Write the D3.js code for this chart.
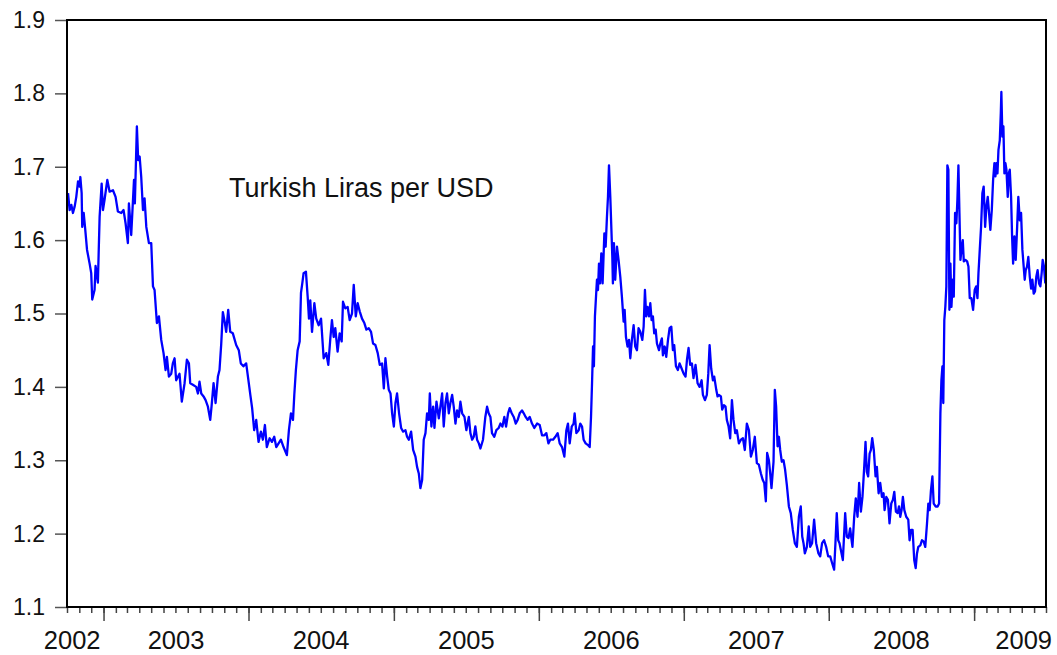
<!DOCTYPE html>
<html>
<head>
<meta charset="utf-8">
<script src="https://cdn.jsdelivr.net/npm/d3@7"></script>
<style>
	body { margin: 0; background: #fff; }
	text { font-family: "Liberation Sans", Arial, Helvetica, sans-serif; }
</style>
</head>
<body>
<div id="chart"></div>
<script>
// y axis ticks
var yTicks = [1.1, 1.2, 1.3, 1.4, 1.5, 1.6, 1.7, 1.8, 1.9];

// year labels under the x axis
var yearLabels = [2002, 2003, 2004, 2005, 2006, 2007, 2008, 2009];

var seriesLabel = "Turkish Liras per USD";

var tryUsd2002_03 = [
	[2002.755,1.664],[2002.766,1.641],[2002.778,1.648],[2002.789,1.637],[2002.801,1.646],[2002.812,1.659],[2002.824,1.680],[2002.835,1.673],
	[2002.840,1.686],[2002.849,1.664],[2002.853,1.618],[2002.863,1.637],[2002.874,1.614],[2002.886,1.587],[2002.904,1.568],[2002.915,1.555],
	[2002.922,1.519],[2002.938,1.532],[2002.945,1.565],[2002.961,1.542],[2002.973,1.632],[2002.987,1.677],[2002.996,1.641],[2003.007,1.655],
	[2003.026,1.682],[2003.042,1.666],[2003.065,1.668],[2003.083,1.659],[2003.099,1.639],[2003.122,1.637],[2003.138,1.641],[2003.152,1.623],
	[2003.168,1.596],[2003.175,1.650],[2003.191,1.607],[2003.210,1.682],[2003.216,1.650],[2003.230,1.755],[2003.239,1.709],[2003.249,1.714],
	[2003.260,1.686],[2003.272,1.641],[2003.283,1.657],[2003.295,1.618],[2003.313,1.596],[2003.329,1.596],[2003.341,1.537],[2003.352,1.532],
	[2003.368,1.487],[2003.382,1.496],[2003.398,1.464],[2003.414,1.446],[2003.428,1.423],[2003.437,1.441],[2003.451,1.414],[2003.467,1.418],
	[2003.478,1.432],[2003.490,1.439],[2003.501,1.409],[2003.524,1.418],[2003.540,1.380],[2003.559,1.405],[2003.575,1.437],[2003.589,1.432],
	[2003.598,1.405],[2003.616,1.403],[2003.639,1.400],[2003.651,1.391],[2003.662,1.407],[2003.674,1.391],[2003.690,1.387],[2003.704,1.382],
	[2003.720,1.373],[2003.736,1.355],[2003.745,1.373],[2003.759,1.405],[2003.773,1.378],[2003.789,1.414],[2003.800,1.423],[2003.812,1.459],
	[2003.823,1.502],[2003.837,1.487],[2003.846,1.475],[2003.860,1.505],[2003.874,1.475],[2003.892,1.473],[2003.915,1.457],[2003.933,1.450],
	[2003.947,1.432],[2003.965,1.428],[2003.984,1.432],[2004.002,1.405],[2004.014,1.387],[2004.025,1.371],[2004.039,1.341]
];

var tryUsd2004_05 = [
	[2004.053,1.355],[2004.069,1.325],[2004.085,1.339],[2004.099,1.328],[2004.113,1.348],[2004.126,1.318],[2004.145,1.330],[2004.161,1.325],
	[2004.177,1.332],[2004.191,1.318],[2004.207,1.323],[2004.223,1.328],[2004.241,1.318],[2004.264,1.307],[2004.278,1.341],[2004.292,1.364],
	[2004.306,1.355],[2004.315,1.389],[2004.326,1.423],[2004.338,1.450],[2004.352,1.462],[2004.361,1.528],[2004.370,1.541],[2004.379,1.555],
	[2004.395,1.557],[2004.407,1.523],[2004.416,1.493],[2004.425,1.518],[2004.437,1.475],[2004.453,1.514],[2004.466,1.493],[2004.483,1.484],
	[2004.499,1.493],[2004.517,1.439],[2004.535,1.446],[2004.549,1.430],[2004.563,1.466],[2004.574,1.491],[2004.586,1.468],[2004.597,1.480],
	[2004.613,1.448],[2004.627,1.473],[2004.641,1.462],[2004.650,1.516],[2004.666,1.507],[2004.682,1.509],[2004.696,1.491],[2004.712,1.500],
	[2004.724,1.539],[2004.738,1.496],[2004.751,1.514],[2004.765,1.503],[2004.781,1.493],[2004.797,1.487],[2004.811,1.478],[2004.827,1.480],
	[2004.843,1.475],[2004.857,1.459],[2004.873,1.457],[2004.889,1.446],[2004.903,1.430],[2004.919,1.432],[2004.931,1.398],[2004.942,1.439],
	[2004.954,1.414],[2004.965,1.396],[2004.977,1.391],[2004.988,1.364],[2005.000,1.346],[2005.011,1.378],[2005.022,1.391],[2005.036,1.364],
	[2005.050,1.344],[2005.064,1.339],[2005.080,1.341],[2005.091,1.332],[2005.103,1.328],[2005.119,1.339],[2005.133,1.314],[2005.149,1.305],
	[2005.160,1.291],[2005.172,1.282],[2005.183,1.262],[2005.195,1.273],[2005.206,1.328],[2005.218,1.337],[2005.229,1.364],[2005.241,1.355],
	[2005.248,1.391],[2005.259,1.346],[2005.271,1.373],[2005.280,1.344],[2005.294,1.380],[2005.310,1.357],[2005.321,1.373]
];

var tryUsd2005_06 = [
	[2005.333,1.391],[2005.344,1.346],[2005.356,1.378],[2005.367,1.391],[2005.379,1.364],[2005.390,1.378],[2005.402,1.389],[2005.413,1.373],
	[2005.425,1.350],[2005.436,1.368],[2005.448,1.359],[2005.459,1.380],[2005.471,1.364],[2005.487,1.359],[2005.500,1.341],[2005.517,1.359],
	[2005.528,1.337],[2005.540,1.328],[2005.551,1.332],[2005.562,1.346],[2005.574,1.328],[2005.586,1.323],[2005.597,1.316],[2005.615,1.328],
	[2005.631,1.359],[2005.643,1.373],[2005.654,1.364],[2005.666,1.359],[2005.677,1.337],[2005.693,1.332],[2005.707,1.341],[2005.723,1.344],
	[2005.735,1.350],[2005.749,1.346],[2005.762,1.359],[2005.774,1.346],[2005.788,1.364],[2005.799,1.371],[2005.813,1.364],[2005.827,1.359],
	[2005.841,1.350],[2005.854,1.355],[2005.868,1.364],[2005.884,1.368],[2005.896,1.364],[2005.909,1.359],[2005.923,1.355],[2005.937,1.359],
	[2005.953,1.350],[2005.969,1.344],[2005.988,1.350],[2006.006,1.348],[2006.022,1.334],[2006.038,1.334],[2006.052,1.337],[2006.066,1.323],
	[2006.079,1.328],[2006.098,1.328],[2006.114,1.332],[2006.130,1.337],[2006.144,1.323],[2006.160,1.318],[2006.176,1.305],[2006.190,1.341],
	[2006.201,1.350],[2006.213,1.323],[2006.227,1.346],[2006.240,1.350],[2006.247,1.364],[2006.259,1.337],[2006.275,1.341],[2006.286,1.350],
	[2006.298,1.346],[2006.309,1.328],[2006.323,1.323],[2006.337,1.321],[2006.351,1.318],[2006.360,1.359],[2006.367,1.405],[2006.374,1.455],
	[2006.380,1.428],[2006.387,1.496],[2006.397,1.532],[2006.401,1.546],[2006.408,1.532],[2006.415,1.568],[2006.422,1.541],[2006.431,1.582],
	[2006.440,1.541],[2006.452,1.609],[2006.461,1.591],[2006.470,1.632],[2006.477,1.659],[2006.484,1.702],[2006.493,1.659],[2006.500,1.618],
	[2006.507,1.577],[2006.511,1.541],[2006.518,1.596],[2006.527,1.546],[2006.539,1.591],[2006.550,1.573],[2006.562,1.550],[2006.573,1.523],
	[2006.585,1.489],[2006.592,1.505],[2006.601,1.468],[2006.612,1.455],[2006.622,1.464],[2006.631,1.439]
];

var tryUsd2006_08 = [
	[2006.642,1.464],[2006.654,1.484],[2006.665,1.455],[2006.677,1.450],[2006.688,1.480],[2006.700,1.475],[2006.714,1.464],[2006.723,1.482],
	[2006.732,1.532],[2006.741,1.496],[2006.750,1.509],[2006.760,1.496],[2006.769,1.514],[2006.778,1.491],[2006.787,1.496],[2006.796,1.473],
	[2006.806,1.478],[2006.815,1.459],[2006.829,1.450],[2006.838,1.459],[2006.849,1.466],[2006.856,1.443],[2006.868,1.455],[2006.879,1.441],
	[2006.891,1.464],[2006.902,1.480],[2006.914,1.482],[2006.925,1.450],[2006.934,1.457],[2006.946,1.428],[2006.959,1.423],[2006.971,1.432],
	[2006.985,1.425],[2006.999,1.418],[2007.012,1.414],[2007.022,1.437],[2007.033,1.453],[2007.044,1.430],[2007.056,1.432],[2007.067,1.412],
	[2007.081,1.430],[2007.095,1.405],[2007.109,1.400],[2007.123,1.409],[2007.132,1.389],[2007.146,1.382],[2007.159,1.389],[2007.169,1.418],
	[2007.178,1.457],[2007.189,1.425],[2007.201,1.409],[2007.210,1.414],[2007.224,1.396],[2007.233,1.387],[2007.242,1.389],[2007.256,1.387],
	[2007.265,1.369],[2007.277,1.375],[2007.288,1.373],[2007.297,1.355],[2007.309,1.346],[2007.320,1.330],[2007.332,1.382],[2007.343,1.355],
	[2007.355,1.337],[2007.366,1.341],[2007.380,1.323],[2007.394,1.328],[2007.408,1.330],[2007.421,1.314],[2007.435,1.350],[2007.449,1.341],
	[2007.463,1.305],[2007.476,1.314],[2007.490,1.332],[2007.504,1.296],[2007.518,1.294],[2007.532,1.282],[2007.545,1.273],[2007.555,1.269],
	[2007.566,1.244],[2007.575,1.310],[2007.587,1.300],[2007.596,1.282],[2007.605,1.262],[2007.619,1.298],[2007.628,1.396],[2007.637,1.373],
	[2007.647,1.319],[2007.656,1.332],[2007.665,1.314],[2007.676,1.298],[2007.688,1.300],[2007.699,1.287],[2007.711,1.266],[2007.725,1.237],
	[2007.738,1.228],[2007.752,1.205],[2007.766,1.187],[2007.780,1.182],[2007.794,1.223],[2007.807,1.237],[2007.817,1.196],[2007.826,1.187],
	[2007.835,1.173],[2007.849,1.182],[2007.862,1.210],[2007.872,1.182],[2007.885,1.187],[2007.899,1.219],[2007.913,1.187],[2007.929,1.173],
	[2007.941,1.169],[2007.954,1.187],[2007.968,1.191],[2007.982,1.182],[2007.996,1.169],[2008.010,1.169],[2008.023,1.160],[2008.037,1.151],
	[2008.046,1.187],[2008.055,1.228],[2008.065,1.191],[2008.074,1.187]
];

var tryUsd2008_09 = [
	[2008.083,1.178],[2008.097,1.164],[2008.113,1.228],[2008.124,1.196],[2008.136,1.194],[2008.147,1.207],[2008.163,1.182],[2008.175,1.223],
	[2008.186,1.248],[2008.198,1.223],[2008.209,1.269],[2008.221,1.230],[2008.232,1.250],[2008.244,1.291],[2008.253,1.325],[2008.262,1.284],
	[2008.271,1.278],[2008.281,1.309],[2008.290,1.314],[2008.299,1.330],[2008.310,1.314],[2008.322,1.278],[2008.331,1.291],[2008.343,1.255],
	[2008.354,1.269],[2008.366,1.250],[2008.377,1.255],[2008.384,1.232],[2008.396,1.250],[2008.407,1.246],[2008.418,1.214],[2008.430,1.241],
	[2008.441,1.246],[2008.451,1.257],[2008.462,1.230],[2008.474,1.228],[2008.483,1.237],[2008.492,1.223],[2008.501,1.232],[2008.510,1.250],
	[2008.520,1.232],[2008.533,1.223],[2008.547,1.219],[2008.556,1.191],[2008.566,1.205],[2008.577,1.205],[2008.588,1.164],[2008.598,1.153],
	[2008.607,1.173],[2008.616,1.182],[2008.630,1.184],[2008.641,1.191],[2008.653,1.189],[2008.664,1.182],[2008.676,1.214],[2008.685,1.241],
	[2008.694,1.232],[2008.703,1.259],[2008.713,1.278],[2008.722,1.241],[2008.736,1.237],[2008.749,1.237],[2008.759,1.241],[2008.768,1.364],
	[2008.775,1.409],[2008.782,1.428],[2008.788,1.378],[2008.795,1.491],[2008.802,1.509],[2008.809,1.537],[2008.816,1.702],[2008.823,1.696],
	[2008.830,1.505],[2008.837,1.568],[2008.844,1.509],[2008.853,1.546],[2008.860,1.523],[2008.869,1.637],[2008.878,1.623],[2008.885,1.655],
	[2008.892,1.702],[2008.899,1.637],[2008.906,1.573],[2008.915,1.591],[2008.922,1.600],[2008.929,1.571],[2008.940,1.573],[2008.952,1.571],
	[2008.961,1.564],[2008.970,1.521],[2008.981,1.521],[2008.993,1.505],[2009.004,1.532],[2009.014,1.537],[2009.023,1.521],[2009.030,1.555],
	[2009.039,1.587],[2009.048,1.618],[2009.057,1.664],[2009.066,1.673],[2009.076,1.618],[2009.085,1.646],[2009.094,1.659],[2009.103,1.637],
	[2009.112,1.614],[2009.122,1.641],[2009.131,1.682],[2009.140,1.705],[2009.147,1.687],[2009.154,1.705],[2009.161,1.691],[2009.168,1.723],
	[2009.177,1.736],[2009.184,1.773],[2009.188,1.802],[2009.195,1.741],[2009.202,1.755],[2009.209,1.691],[2009.216,1.705],[2009.223,1.696],
	[2009.232,1.659],[2009.239,1.691],[2009.246,1.696],[2009.255,1.659],[2009.262,1.605],[2009.269,1.568],[2009.278,1.605],[2009.287,1.573],
	[2009.296,1.614],[2009.305,1.659],[2009.315,1.627],[2009.324,1.637],[2009.333,1.587],[2009.342,1.564],[2009.349,1.546],[2009.356,1.559],
	[2009.365,1.564],[2009.374,1.577],[2009.384,1.550],[2009.393,1.534],[2009.402,1.546],[2009.411,1.527],[2009.420,1.530],[2009.429,1.550],
	[2009.438,1.559],[2009.448,1.541],[2009.457,1.537],[2009.466,1.555],[2009.473,1.573],[2009.482,1.564],[2009.491,1.541]
];

var layout = {
	w: 1057,
	h: 655,
	left: 67,
	right: 1046,
	top: 20,
	bottom: 607
}

var svg = d3.select("#chart")
			.append("svg")
			.attr("width", layout.w)
			.attr("height", layout.h);

// decimal year -> Date
var toDate = function(t){
	var yr = Math.floor(t),
		a = new Date(yr, 0, 1),
		b = new Date(yr + 1, 0, 1);
	return new Date(a.getTime() + (t - yr) * (b - a));
}

var series = [].concat(tryUsd2002_03, tryUsd2004_05, tryUsd2005_06, tryUsd2006_08, tryUsd2008_09)
				.map(function(d){ return { date: toDate(d[0]), value: d[1] }; });

var xScale = d3.scaleTime()
				.domain([new Date(2002, 9, 1), new Date(2009, 6, 1)])
				.range([layout.left, layout.right]),
	yScale = d3.scaleLinear()
				.domain([1.1, 1.9])
				.range([layout.bottom, layout.top]);

// y axis
var yAxis = svg.append("g")
				.attr("class", "y-axis")
				.attr("transform", "translate(" + layout.left + ",0)")
				.call(d3.axisLeft(yScale)
						.tickValues(yTicks)
						.tickSize(12)
						.tickPadding(10)
						.tickFormat(d3.format(".1f")));
yAxis.select(".domain").remove();
yAxis.selectAll("line").style("stroke", "#555").style("stroke-width", 1.5);
yAxis.selectAll("text")
		.style("font-size", "23px")
		.style("fill", "#111")
		.style("font-family", "'Liberation Sans', Arial, sans-serif");

// x axis: monthly minor ticks + yearly major ticks
var xMinor = svg.append("g")
				.attr("class", "x-minor")
				.attr("transform", "translate(0," + layout.bottom + ")")
				.call(d3.axisBottom(xScale)
						.ticks(d3.timeMonth.every(1))
						.tickSize(6)
						.tickFormat(""));
xMinor.select(".domain").remove();
xMinor.selectAll("line").style("stroke", "#444").style("stroke-width", 1.5);

var xMajor = svg.append("g")
				.attr("class", "x-major")
				.attr("transform", "translate(0," + layout.bottom + ")")
				.call(d3.axisBottom(xScale)
						.ticks(d3.timeYear.every(1))
						.tickSize(14)
						.tickFormat(""));
xMajor.select(".domain").remove();
xMajor.selectAll("line").style("stroke", "#444").style("stroke-width", 1.5);

// year labels, centred in each year's span
svg.append("g")
	.attr("class", "year-labels")
	.selectAll("text")
	.data(yearLabels)
	.enter().append("text")
	.attr("x", function(d, i){
		var a = Math.max(xScale(new Date(d, 0, 1)), layout.left),
			b = Math.min(xScale(new Date(d + 1, 0, 1)), layout.right);
		if(i == 0) return b - 3;
		if(i == yearLabels.length - 1) return layout.right + 6;
		return (a + b) / 2;
	})
	.attr("y", 649)
	.attr("text-anchor", function(d, i){
		return (i == 0 || i == yearLabels.length - 1) ? "end" : "middle";
	})
	.style("font-size", "25.5px")
	.style("fill", "#111")
	.text(function(d){ return d; });

// the line
var line = d3.line()
			.x(function(d){ return xScale(d.date); })
			.y(function(d){ return yScale(d.value); });

svg.append("path")
	.datum(series)
	.attr("class", "rate-line")
	.attr("d", line)
	.style("fill", "none")
	.style("stroke", "#0000ff")
	.style("stroke-width", 2.3)
	.style("stroke-linejoin", "round");

// frame
svg.append("rect")
	.attr("x", layout.left)
	.attr("y", layout.top)
	.attr("width", layout.right - layout.left)
	.attr("height", layout.bottom - layout.top)
	.style("fill", "none")
	.style("stroke", "#000")
	.style("stroke-width", 2);

// series label
svg.append("text")
	.attr("x", 229)
	.attr("y", 197)
	.style("font-size", "27px")
	.style("fill", "#111")
	.text(seriesLabel);
</script>
</body>
</html>
